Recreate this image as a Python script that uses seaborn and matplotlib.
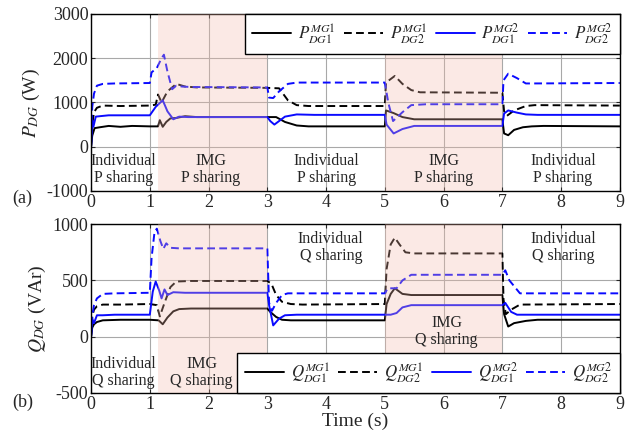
import matplotlib
matplotlib.use("Agg")
import matplotlib.pyplot as plt
import seaborn as sns
import pandas as pd

# ---- Active power of each DG (W) ----
p11_t = [0, 0.02, 0.06, 0.15, 0.3, 0.5, 0.7, 1.0, 1.14, 1.17, 1.22, 1.28, 1.35, 1.45, 1.6, 1.8,
         3.0, 3.15, 3.3, 3.5, 3.7, 5.0, 5.02, 5.15, 5.3, 5.5, 7.0, 7.03, 7.1, 7.2, 7.35, 7.5, 7.7, 9.0]
p11_v = [0, 250, 420, 440, 470, 450, 470, 460, 460, 600, 450, 560, 640, 650, 690, 670,
         670, 670, 560, 480, 460, 460, 820, 760, 670, 620, 620, 300, 260, 380, 440, 460, 470, 460]

p12_t = [0, 0.02, 0.05, 0.1, 0.2, 0.5, 1.0, 1.1, 1.14, 1.2, 1.3, 1.45, 1.6, 1.8,
         3.0, 3.2, 3.35, 3.5, 3.7, 5.0, 5.02, 5.17, 5.3, 5.45, 5.6, 7.0, 7.03, 7.08, 7.2, 7.4, 7.55, 9.0]
p12_v = [0, 500, 780, 880, 930, 920, 930, 950, 1180, 1000, 1250, 1420, 1360, 1340,
         1330, 1320, 1050, 940, 920, 920, 1450, 1600, 1420, 1280, 1230, 1220, 800, 700, 820, 920, 940, 930]

p21_t = [0, 0.02, 0.04, 0.08, 0.15, 0.3, 1.0, 1.1, 1.22, 1.3, 1.4, 1.5, 1.65,
         3.0, 3.05, 3.12, 3.3, 3.5, 3.8, 5.0, 5.03, 5.15, 5.3, 5.5, 7.0, 7.03, 7.1, 7.25, 7.4, 7.6, 9.0]
p21_v = [0, 600, 450, 680, 690, 710, 710, 900, 1050, 800, 620, 680, 670,
         670, 580, 500, 680, 730, 720, 720, 500, 300, 400, 470, 470, 750, 820, 770, 730, 720, 720]

p22_t = [0, 0.02, 0.05, 0.1, 0.2, 0.4, 1.0, 1.03, 1.12, 1.2, 1.24, 1.3, 1.38, 1.45, 1.55, 1.7,
         3.0, 3.03, 3.1, 3.2, 3.35, 3.5, 5.0, 5.06, 5.14, 5.3, 5.45, 5.7, 7.0, 7.02, 7.1, 7.25, 7.4, 7.5, 9.0]
p22_v = [0, 900, 1200, 1380, 1420, 1430, 1440, 1680, 1780, 2000, 2080, 1700, 1300, 1380, 1360, 1350,
         1340, 1110, 1100, 1250, 1420, 1450, 1450, 990, 580, 780, 940, 960, 960, 1500, 1650, 1550, 1430, 1430, 1440]

# ---- Reactive power of each DG (VAr) ----
q11_t = [0, 0.02, 0.05, 0.1, 0.2, 0.5, 1.0, 1.15, 1.22, 1.3, 1.4, 1.5, 1.7,
         3.0, 3.05, 3.15, 3.25, 3.4, 5.0, 5.03, 5.1, 5.17, 5.3, 5.45, 7.0, 7.03, 7.1, 7.2, 7.4, 7.6, 9.0]
q11_v = [0, 80, 110, 130, 145, 150, 150, 145, 110, 170, 225, 245, 250,
         250, 220, 175, 150, 145, 145, 290, 380, 430, 380, 370, 370, 200, 90, 120, 140, 150, 150]

q12_t = [0, 0.02, 0.05, 0.1, 0.2, 0.5, 1.0, 1.12, 1.17, 1.25, 1.35, 1.45, 1.7,
         3.0, 3.07, 3.15, 3.25, 3.4, 3.6, 5.0, 5.03, 5.1, 5.17, 5.25, 5.35, 5.5,
         7.0, 7.02, 7.06, 7.15, 7.3, 9.0]
q12_v = [0, 180, 240, 270, 285, 285, 290, 280, 180, 300, 440, 490, 495,
         495, 470, 370, 310, 290, 285, 290, 600, 820, 880, 820, 750, 740,
         740, 330, 200, 240, 285, 290]

q21_t = [0, 0.02, 0.05, 0.1, 0.2, 0.4, 1.0, 1.05, 1.1, 1.16, 1.2, 1.25, 1.3, 1.4, 1.6,
         3.0, 3.03, 3.1, 3.2, 3.3, 3.5, 5.0, 5.1, 5.2, 5.3, 5.45, 7.0, 7.05, 7.15, 7.25, 9.0]
q21_v = [0, 160, 120, 190, 190, 195, 195, 400, 490, 410, 340, 420, 370, 395, 390,
         390, 280, 100, 160, 190, 195, 195, 195, 210, 260, 280, 280, 300, 220, 195, 195]

q22_t = [0, 0.02, 0.05, 0.1, 0.2, 0.4, 1.0, 1.03, 1.08, 1.12, 1.18, 1.23, 1.28, 1.35, 1.5,
         3.0, 3.03, 3.08, 3.15, 3.25, 3.35, 5.0, 5.05, 5.2, 5.3, 5.45, 7.0, 7.05, 7.12, 7.3, 9.0]
q22_v = [0, 180, 280, 340, 380, 385, 390, 700, 930, 960, 850, 780, 830, 790, 785,
         785, 300, 230, 300, 370, 385, 385, 430, 430, 500, 550, 550, 590, 500, 385, 385]

# Operating modes
img_spans = [(1.14, 3.0), (5.0, 7.0)]
x_ticks = [0, 1, 2, 3, 4, 5, 6, 7, 8, 9]

p_labels = [r"$P_{\mathit{DG1}}^{\mathit{MG1}}$", r"$P_{\mathit{DG2}}^{\mathit{MG1}}$",
            r"$P_{\mathit{DG1}}^{\mathit{MG2}}$", r"$P_{\mathit{DG2}}^{\mathit{MG2}}$"]
q_labels = [r"$Q_{\mathit{DG1}}^{\mathit{MG1}}$", r"$Q_{\mathit{DG2}}^{\mathit{MG1}}$",
            r"$Q_{\mathit{DG1}}^{\mathit{MG2}}$", r"$Q_{\mathit{DG2}}^{\mathit{MG2}}$"]

sns.set_style("ticks")
plt.rcParams["font.family"] = ["Liberation Serif", "DejaVu Serif"]
plt.rcParams["mathtext.fontset"] = "stix"
plt.rcParams["axes.unicode_minus"] = False

BLUE = "#0a0aff"
DASH = (0, (4, 2.2))
styles = [("black", "-"), ("black", DASH), (BLUE, "-"), (BLUE, DASH)]

fig = plt.figure(figsize=(6.28, 4.37), dpi=100)
ax1 = fig.add_axes([0.145, 0.563, 0.842, 0.405])
ax2 = fig.add_axes([0.145, 0.101, 0.842, 0.386])


def draw(ax, series, labels):
    for (t, v), (c, ls), lab in zip(series, styles, labels):
        df = pd.DataFrame({"t": t, "v": v})
        sns.lineplot(data=df, x="t", y="v", ax=ax, color=c, linestyle=ls,
                     linewidth=1.4, label=lab, estimator=None, sort=False, zorder=2)
    for a, b in img_spans:
        ax.axvspan(a, b, color="#f4b9a9", alpha=0.3, lw=0, zorder=3)
    ax.set_xlim(0, 9)
    ax.set_xticks(x_ticks)
    ax.grid(True, color="#a8a8a8", lw=0.8)
    ax.tick_params(direction="in", top=True, right=True, labelsize=13, length=3, pad=2)
    for s in ax.spines.values():
        s.set_linewidth(1.0)
        s.set_color("black")
    ax.set_xlabel("")


draw(ax1, [(p11_t, p11_v), (p12_t, p12_v), (p21_t, p21_v), (p22_t, p22_v)], p_labels)
draw(ax2, [(q11_t, q11_v), (q12_t, q12_v), (q21_t, q21_v), (q22_t, q22_v)], q_labels)

ax1.set_ylim(-1000, 3000)
ax1.set_yticks([-1000, 0, 1000, 2000, 3000])
ax2.set_ylim(-500, 1000)
ax2.set_yticks([-500, 0, 500, 1000])

ax1.set_ylabel(r"$P_{DG}$ (W)", fontsize=14, labelpad=3)
ax2.set_ylabel(r"$Q_{DG}$ (VAr)", fontsize=14, labelpad=3)
ax2.set_xlabel("Time (s)", fontsize=14, labelpad=0)

leg_kw = dict(ncol=4, fontsize=12.2, frameon=True, fancybox=False, edgecolor="black",
              framealpha=1, borderaxespad=0, handlelength=2.3, columnspacing=0.5,
              handletextpad=0.4, borderpad=0.45)
l1 = ax1.legend(loc="upper right", **leg_kw)
l2 = ax2.legend(loc="lower right", **leg_kw)
for lg in (l1, l2):
    lg.get_frame().set_linewidth(1.0)
    lg.set_zorder(5)

txt = dict(ha="center", va="center", fontsize=11.5, linespacing=1.1, zorder=4)
ax1.text(0.55, -520, "Individual\nP sharing", **txt)
ax1.text(2.04, -520, "IMG\nP sharing", **txt)
ax1.text(4.0, -520, "Individual\nP sharing", **txt)
ax1.text(6.0, -520, "IMG\nP sharing", **txt)
ax1.text(8.03, -520, "Individual\nP sharing", **txt)

ax2.text(0.55, -320, "Individual\nQ sharing", **txt)
ax2.text(1.88, -320, "IMG\nQ sharing", **txt)
ax2.text(4.08, 790, "Individual\nQ sharing", **txt)
ax2.text(6.05, 45, "IMG\nQ sharing", **txt)
ax2.text(8.03, 790, "Individual\nQ sharing", **txt)

fig.text(0.02, 0.545, "(a)", fontsize=13, ha="left", va="center")
fig.text(0.02, 0.080, "(b)", fontsize=13, ha="left", va="center")

fig.savefig("out.png", dpi=100)
